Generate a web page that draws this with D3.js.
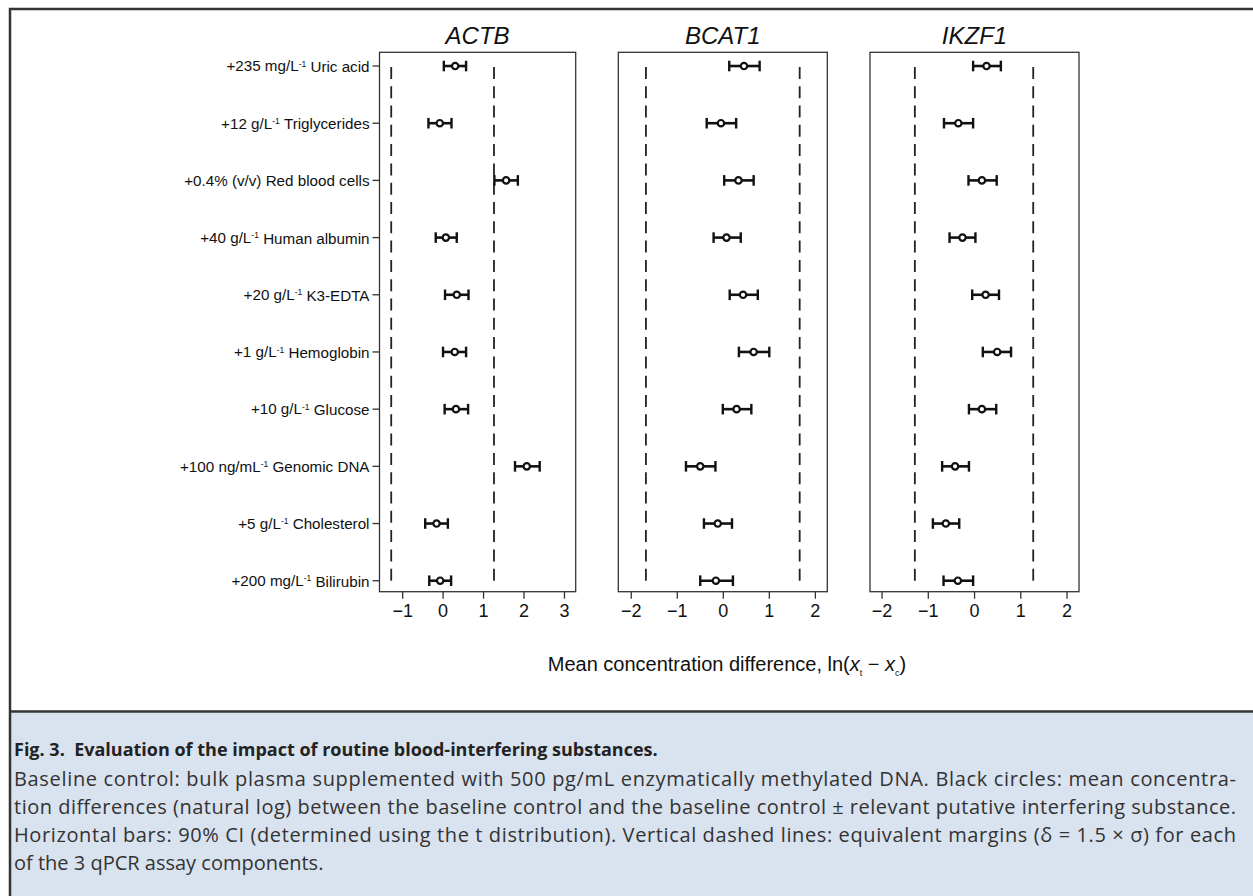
<!DOCTYPE html>
<html>
<head>
<meta charset="utf-8">
<script src="https://cdn.jsdelivr.net/npm/d3@7"></script>
<style>
  html, body { margin: 0; padding: 0; background: #ffffff; }
  svg { display: block; }
</style>
</head>
<body>
<svg id="chart" width="1253" height="896"></svg>
<script>
// ---------------- DATA ----------------
const categories = [
  "+235 mg/L⁻¹ Uric acid",
  "+12 g/L⁻¹ Triglycerides",
  "+0.4% (v/v) Red blood cells",
  "+40 g/L⁻¹ Human albumin",
  "+20 g/L⁻¹ K3-EDTA",
  "+1 g/L⁻¹ Hemoglobin",
  "+10 g/L⁻¹ Glucose",
  "+100 ng/mL⁻¹ Genomic DNA",
  "+5 g/L⁻¹ Cholesterol",
  "+200 mg/L⁻¹ Bilirubin"
];
const genes = ["ACTB", "BCAT1", "IKZF1"];

const actbMean = [0.31, -0.07, 1.57, 0.08, 0.35, 0.30, 0.33, 2.08, -0.15, -0.06];
const actbLow  = [0.03, -0.35, 1.28, -0.17, 0.06, 0.01, 0.05, 1.79, -0.43, -0.33];
const actbHigh = [0.58, 0.22, 1.86, 0.35, 0.64, 0.58, 0.63, 2.40, 0.13, 0.21];

const bcat1Mean = [0.46, -0.04, 0.34, 0.08, 0.44, 0.67, 0.30, -0.49, -0.11, -0.15];
const bcat1Low  = [0.14, -0.35, 0.03, -0.20, 0.15, 0.35, 0.00, -0.80, -0.41, -0.49];
const bcat1High = [0.80, 0.29, 0.67, 0.39, 0.76, 1.01, 0.62, -0.16, 0.20, 0.22];

const ikzf1Mean = [0.27, -0.34, 0.17, -0.25, 0.25, 0.50, 0.17, -0.41, -0.61, -0.35];
const ikzf1Low  = [-0.02, -0.65, -0.12, -0.53, -0.04, 0.19, -0.11, -0.69, -0.89, -0.66];
const ikzf1High = [0.58, -0.02, 0.49, 0.03, 0.54, 0.80, 0.48, -0.11, -0.32, -0.02];

const margins = [1.27, 1.67, 1.28];           // equivalence margins (±)
const xDomains = [[-1.56, 3.29], [-2.27, 2.27], [-2.25, 2.27]];
const xTicks = [[-1, 0, 1, 2, 3], [-2, -1, 0, 1, 2], [-2, -1, 0, 1, 2]];

const axisTitle = "Mean concentration difference, ln(";
const captionTitle = "Fig. 3.\u00a0 Evaluation of the impact of routine blood-interfering substances.";
const captionLines = [
  "Baseline control: bulk plasma supplemented with 500 pg/mL enzymatically methylated DNA. Black circles: mean concentra-",
  "tion differences (natural log) between the baseline control and the baseline control ± relevant putative interfering substance.",
  "Horizontal bars: 90% CI (determined using the t distribution). Vertical dashed lines: equivalent margins (δ = 1.5 × σ) for each",
  "of the 3 qPCR assay components."
];

const means = [actbMean, bcat1Mean, ikzf1Mean];
const lows = [actbLow, bcat1Low, ikzf1Low];
const highs = [actbHigh, bcat1High, ikzf1High];

// ---------------- LAYOUT ----------------
const svg = d3.select("#chart");
const FONT = "'Liberation Sans', Arial, Helvetica, sans-serif";
const CAPFONT = "'Open Sans', 'Noto Sans', sans-serif";
const ink = "#111";

const panelX = [[379.5, 575.7], [618.3, 827.3], [870, 1079]];
const plotTop = 52.3, plotBottom = 591.7;

// frame + caption background
svg.append("rect").attr("x", 11).attr("y", 712.5).attr("width", 1242).attr("height", 184)
  .attr("fill", "#d9e2ef");
svg.append("path")
  .attr("d", "M1253,9 H10 V896 M10,711.5 H1253")
  .attr("fill", "none").attr("stroke", "#333").attr("stroke-width", 2.5);

const y = d3.scaleLinear().domain([-0.24, 9.192]).range([plotTop, plotBottom]);

genes.forEach((gene, gi) => {
  const [x0, x1] = panelX[gi];
  const x = d3.scaleLinear().domain(xDomains[gi]).range([x0, x1]);
  const g = svg.append("g");

  // box
  g.append("rect").attr("x", x0).attr("y", plotTop).attr("width", x1 - x0).attr("height", plotBottom - plotTop)
    .attr("fill", "none").attr("stroke", "#333").attr("stroke-width", 1.3);

  // title
  g.append("text").attr("x", (x0 + x1) / 2).attr("y", 44).attr("text-anchor", "middle")
    .attr("font-family", FONT).attr("font-style", "italic").attr("font-size", 24)
    .attr("fill", ink).text(gene);

  // x axis
  const ax = g.append("g").attr("transform", `translate(0,${plotBottom})`)
    .call(d3.axisBottom(x).tickValues(xTicks[gi]).tickSize(7).tickPadding(6).tickFormat(d3.format("d")));
  ax.select(".domain").remove();
  ax.selectAll(".tick line").attr("stroke", "#333").attr("stroke-width", 1.3);
  ax.selectAll(".tick text").attr("font-family", FONT).attr("font-size", 18).attr("fill", ink);

  // dashed equivalence lines (drawn bottom to top)
  [-margins[gi], margins[gi]].forEach(m => {
    g.append("line").attr("x1", x(m)).attr("x2", x(m)).attr("y1", y(9)).attr("y2", y(0))
      .attr("stroke", "#222").attr("stroke-width", 1.8).attr("stroke-dasharray", "12,7.3");
  });

  // error bars
  const rows = g.selectAll("g.row").data(d3.range(categories.length)).join("g").attr("class", "row");
  rows.append("line")
    .attr("x1", i => x(lows[gi][i])).attr("x2", i => x(highs[gi][i]))
    .attr("y1", i => y(i)).attr("y2", i => y(i))
    .attr("stroke", ink).attr("stroke-width", 2.6);
  rows.append("line")
    .attr("x1", i => x(lows[gi][i])).attr("x2", i => x(lows[gi][i]))
    .attr("y1", i => y(i) - 5.3).attr("y2", i => y(i) + 5.3)
    .attr("stroke", ink).attr("stroke-width", 2.4);
  rows.append("line")
    .attr("x1", i => x(highs[gi][i])).attr("x2", i => x(highs[gi][i]))
    .attr("y1", i => y(i) - 5.3).attr("y2", i => y(i) + 5.3)
    .attr("stroke", ink).attr("stroke-width", 2.4);
  rows.append("circle")
    .attr("cx", i => x(means[gi][i])).attr("cy", i => y(i)).attr("r", 3.2)
    .attr("fill", "#fff").attr("stroke", ink).attr("stroke-width", 2.2);

  // y axis labels only on first panel
  if (gi === 0) {
    const ya = g.append("g");
    categories.forEach((c, i) => {
      ya.append("line").attr("x1", x0 - 7).attr("x2", x0).attr("y1", y(i)).attr("y2", y(i))
        .attr("stroke", "#333").attr("stroke-width", 1.3);
      const t = ya.append("text").attr("x", x0 - 10).attr("y", y(i)).attr("dy", "0.35em")
        .attr("text-anchor", "end").attr("font-family", FONT).attr("font-size", 15.2).attr("fill", ink);
      const parts = c.split("⁻¹");
      t.append("tspan").text(parts[0]);
      if (parts.length > 1) {
        t.append("tspan").attr("font-size", 8.5).attr("dy", "-0.55em").text("-1");
        t.append("tspan").attr("dy", "0.35em").text("\u00a0");
        t.append("tspan").text(parts[1].trim());
      }
    });
  }
});

// x-axis title
const at = svg.append("text").attr("x", 727).attr("y", 671).attr("text-anchor", "middle")
  .attr("font-family", FONT).attr("font-size", 20).attr("fill", ink);
at.append("tspan").text(axisTitle);
at.append("tspan").attr("font-style", "italic").text("x");
at.append("tspan").attr("font-size", 9).attr("dy", 5).text("t");
at.append("tspan").attr("dy", -5).text(" − ");
at.append("tspan").attr("font-style", "italic").text("x");
at.append("tspan").attr("font-size", 9).attr("dy", 5).text("c");
at.append("tspan").attr("dy", -5).text(")");

// caption
svg.append("text").attr("x", 14).attr("y", 756)
  .attr("font-family", CAPFONT).attr("font-weight", 700).attr("font-size", 18)
  .attr("fill", "#222").text(captionTitle);
captionLines.forEach((line, i) => {
  const t = svg.append("text").attr("x", 14).attr("y", 786 + i * 28)
    .attr("font-family", CAPFONT).attr("font-size", 20).attr("fill", "#333").text(line);
  if (i < captionLines.length - 1) t.attr("textLength", 1222).attr("lengthAdjust", "spacing");
});
</script>
</body>
</html>
